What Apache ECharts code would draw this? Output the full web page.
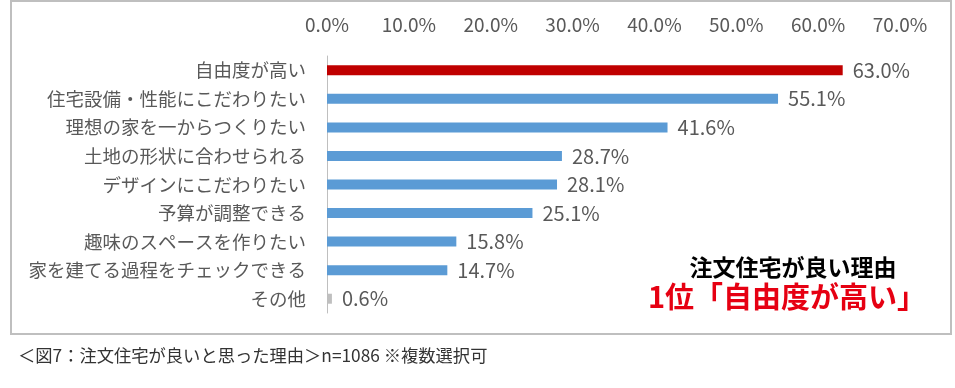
<!DOCTYPE html>
<html>
<head>
<meta charset="utf-8">
<script src="https://cdn.jsdelivr.net/npm/echarts@6/dist/echarts.min.js"></script>
<style>
html,body{margin:0;padding:0;background:#fff;}
#chart{width:955px;height:388px;}
</style>
</head>
<body>
<div id="chart"></div>
<script>
const categories = [
  "自由度が高い",
  "住宅設備・性能にこだわりたい",
  "理想の家を一からつくりたい",
  "土地の形状に合わせられる",
  "デザインにこだわりたい",
  "予算が調整できる",
  "趣味のスペースを作りたい",
  "家を建てる過程をチェックできる",
  "その他"
];
const values = [63.0, 55.1, 41.6, 28.7, 28.1, 25.1, 15.8, 14.7, 0.6];
const barColors = ["#C00000", "#5B9BD5", "#5B9BD5", "#5B9BD5", "#5B9BD5", "#5B9BD5", "#5B9BD5", "#5B9BD5", "#BFBFBF"];
const annotationTitle = "注文住宅が良い理由";
const annotationMain = "1位「自由度が高い」";
const caption = "＜図7：注文住宅が良いと思った理由＞n=1086 ※複数選択可";

const FONT = '"Noto Sans CJK JP", "Noto Sans", sans-serif';
const chart = echarts.init(document.getElementById('chart'));
chart.setOption({
  animation: false,
  backgroundColor: '#ffffff',
  textStyle: { fontFamily: FONT },
  grid: { left: 327, right: 55, top: 56, bottom: 75, containLabel: false },
  xAxis: {
    type: 'value',
    position: 'top',
    min: 0, max: 70, interval: 10,
    axisLine: { show: false },
    axisTick: { show: false },
    splitLine: { show: false },
    axisLabel: {
      color: '#595959', fontSize: 19, fontFamily: FONT, margin: 22,
      formatter: v => v.toFixed(1) + '%'
    }
  },
  yAxis: {
    type: 'category',
    inverse: true,
    data: categories,
    axisLine: { show: true, lineStyle: { color: '#BFBFBF', width: 1 } },
    axisTick: { show: false },
    axisLabel: { color: '#595959', fontSize: 18.5, fontFamily: FONT, margin: 21 }
  },
  series: [{
    type: 'bar',
    barWidth: 10,
    data: values.map((v, i) => ({ value: v, itemStyle: { color: barColors[i] } })),
    label: {
      show: true, position: 'right', distance: 10,
      color: '#595959', fontSize: 20, fontFamily: FONT,
      formatter: p => p.value.toFixed(1) + '%'
    }
  }],
  graphic: [
    { type: 'rect', shape: { x: 11, y: 1, width: 940, height: 333 }, style: { fill: 'none', stroke: '#BFBFBF', lineWidth: 2 }, z: -1 },
    { type: 'text', style: { text: annotationTitle, x: 793, y: 267, align: 'center', verticalAlign: 'middle', fill: '#000', font: 'bold 23px ' + FONT } },
    { type: 'text', style: { text: annotationMain, x: 787, y: 297, align: 'center', verticalAlign: 'middle', fill: '#E60012', font: 'bold 29px ' + FONT } },
    { type: 'text', style: { text: caption, x: 18, y: 355, align: 'left', verticalAlign: 'middle', fill: '#333', font: '17.3px ' + FONT } }
  ]
});
</script>
</body>
</html>
